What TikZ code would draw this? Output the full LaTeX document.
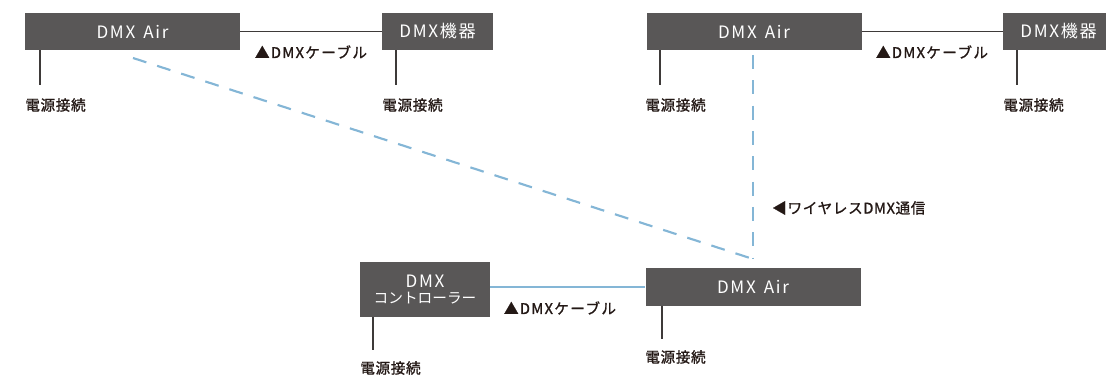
\documentclass[tikz,border=0pt]{standalone}
\usepackage{fontspec}
\setmainfont{Noto Sans CJK JP}
\newfontfamily\boxfont[LetterSpace=10]{Noto Sans CJK JP}
\newfontfamily\lblfont[LetterSpace=4, FakeBold=1.2]{Noto Sans CJK JP}
\newfontfamily\cblfont[LetterSpace=9, FakeBold=1.2]{Noto Sans CJK JP}
\definecolor{boxgray}{HTML}{595757}
\definecolor{ink}{HTML}{231815}
\definecolor{linegray}{HTML}{3E3A39}
\definecolor{skyblue}{HTML}{84B6D6}
\tikzset{
  box/.style={fill=boxgray, draw=none, inner sep=0pt, text=white, font=\boxfont\fontsize{12.8pt}{14pt}\selectfont, align=center},
  lbl/.style={inner sep=0pt, text=ink, font=\lblfont\fontsize{11pt}{13pt}\selectfont},
  cbl/.style={inner sep=0pt, text=ink, font=\cblfont\fontsize{11pt}{13pt}\selectfont},
  pwline/.style={draw=linegray, line width=1.5pt},
  cable/.style={draw=linegray, line width=1.1pt},
  bluecable/.style={draw=skyblue, line width=1.5pt},
  wireless/.style={draw=skyblue, line width=1.6pt, dash pattern=on 10.5pt off 8.5pt}
}
\begin{document}
\begin{tikzpicture}[x=0.75pt, y=-0.75pt]
\useasboundingbox (0,0) rectangle (1106,377);
\begin{scope}
\clip (0,0) rectangle (1106,377);
% boxes
\node[box, minimum width=161.25pt, minimum height=27.75pt] (b1) at (132.5,31.5) {DMX\hspace{6pt}Air};
\node[box, minimum width=83.25pt, minimum height=27.75pt] (b2) at (437.5,31.5) {DMX機器};
\node[box, minimum width=161.25pt, minimum height=27.75pt] (b3) at (754,31.5) {DMX\hspace{6pt}Air};
\node[box, minimum width=83.25pt, minimum height=27.75pt] (b4) at (1058.5,31.5) {DMX機器};
\node[box, minimum width=97.5pt, minimum height=41.25pt, font=\fontsize{11pt}{12.5pt}\selectfont] (b5) at (425,289.5) {{\boxfont\fontsize{12.8pt}{12.5pt}\selectfont DMX}\\コントローラー};
\node[box, minimum width=161.25pt, minimum height=28.5pt] (b6) at (753,287) {DMX\hspace{6pt}Air};

% cable lines
\draw[cable] (b1.east) -- (b2.west);
\draw[cable] (b3.east) -- (b4.west);
\draw[bluecable] (b5.east |- b6.west) -- (b6.west);

% cable labels
\node[cbl] (c1) at (311,52) {▲DMXケーブル};
\node[cbl] (c2) at (932,52) {▲DMXケーブル};
\node[cbl] (c3) at (560,308) {▲DMXケーブル};

% power lines and labels
\coordinate (p1) at (40,85);
\coordinate (p2) at (396,85);
\coordinate (p3) at (660,85);
\coordinate (p4) at (1017,85);
\coordinate (p5) at (373,350);
\coordinate (p6) at (662,339);
\draw[pwline] (p1 |- b1.south) -- (p1);
\draw[pwline] (p2 |- b2.south) -- (p2);
\draw[pwline] (p3 |- b3.south) -- (p3);
\draw[pwline] (p4 |- b4.south) -- (p4);
\draw[pwline] (p5 |- b5.south) -- (p5);
\draw[pwline] (p6 |- b6.south) -- (p6);
\node[lbl, anchor=west] (e1) at (25,105) {電源接続};
\node[lbl, anchor=west] (e2) at (382,105) {電源接続};
\node[lbl, anchor=west] (e3) at (645,105) {電源接続};
\node[lbl, anchor=west] (e4) at (1003,105) {電源接続};
\node[lbl, anchor=west] (e5) at (360,368) {電源接続};
\node[lbl, anchor=west] (e6) at (645,357) {電源接続};

% wireless links
\coordinate (d1) at (133,58);
\coordinate (d2) at (753,55);
\coordinate (w) at (753,259);
\draw[wireless] (d1) -- (w);
\draw[wireless] (d2) -- (w);
\node[lbl, anchor=west] (wl) at (772,208) {◀ワイヤレスDMX通信};
\end{scope}
\end{tikzpicture}
\end{document}
